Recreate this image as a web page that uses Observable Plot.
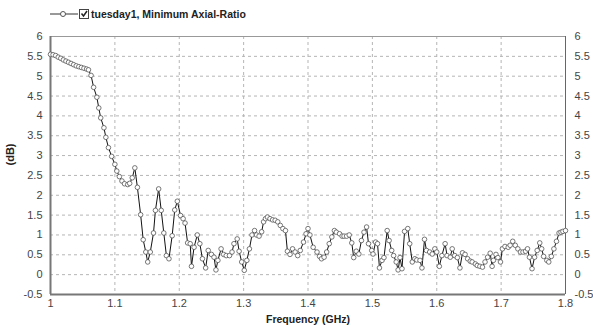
<!DOCTYPE html>
<html><head><meta charset="utf-8">
<script src="https://cdn.jsdelivr.net/npm/d3@7"></script>
<script src="https://cdn.jsdelivr.net/npm/@observablehq/plot@0.6"></script>
<style>
body{margin:0;background:#fff;font-family:"Liberation Sans",Arial,sans-serif;}
#legend{height:24px;}
#legend svg, #chart svg{display:block;}
</style></head><body>
<div id="legend"><svg width="593" height="24">
<line x1="50" y1="14" x2="78" y2="14" stroke="#333"/>
<circle cx="63" cy="14" r="2.5" fill="#fff" stroke="#555"/>
<rect x="79.5" y="9.5" width="9" height="9" fill="#fff" stroke="#444"/>
<path d="M81.5 13.5 l2 2.5 l3.5 -5" fill="none" stroke="#222" stroke-width="1.5"/>
<text x="91" y="18" font-size="10.5" font-weight="bold" fill="#222" font-family="Liberation Sans, Arial, sans-serif">tuesday1, Minimum Axial-Ratio</text>
</svg></div>
<div id="chart"></div>
<script>
const seriesName = "tuesday1, Minimum Axial-Ratio";
const xTicks = [1, 1.1, 1.2, 1.3, 1.4, 1.5, 1.6, 1.7, 1.8];
const yTicks = [-0.5, 0, 0.5, 1, 1.5, 2, 2.5, 3, 3.5, 4, 4.5, 5, 5.5, 6];
const freq = [
1.000,1.004,1.008,1.012,1.016,1.020,1.024,1.028,1.032,1.036,1.040,1.044,1.048,1.052,1.056,1.059,
1.063,1.067,1.072,1.075,1.078,1.083,1.086,1.090,1.095,1.100,1.103,1.107,1.111,1.115,1.120,1.123,
1.127,1.131,1.135,1.140,1.144,1.148,1.151,1.155,1.160,1.163,1.168,1.172,1.176,1.180,1.184,1.189,
1.193,1.197,1.202,
1.206,1.209,1.213,1.217,1.219,1.223,1.228,1.232,1.236,1.241,1.245,1.250,1.254,1.257,1.260,1.265,
1.269,1.273,1.278,1.282,1.285,1.290,1.293,1.297,1.301,1.305,1.309,1.313,1.317,1.320,1.324,1.328,
1.331,1.334,1.337,1.341,1.345,1.349,1.353,1.357,1.361,1.365,1.368,1.372,1.376,1.380,1.384,1.388,
1.393,1.397,1.400,1.403,1.408,
1.414,1.418,1.421,1.425,1.429,1.433,1.437,1.441,1.444,1.449,1.453,1.456,1.460,1.464,1.468,1.471,
1.475,1.479,1.483,1.487,1.491,1.494,1.499,1.501,1.505,1.508,1.511,1.515,1.518,1.523,1.526,1.530,
1.533,1.537,1.540,1.543,1.546,1.550,1.555,1.558,1.562,1.566,1.569,1.574,1.577,1.581,1.584,1.589,
1.593,1.597,1.600,1.604,1.608,
1.613,1.616,1.621,1.624,1.628,1.632,1.636,1.640,1.644,1.648,1.652,1.655,1.660,1.663,1.667,1.671,
1.675,1.679,1.683,1.686,1.688,1.692,1.695,1.699,1.702,1.706,1.711,1.714,1.718,1.722,1.726,1.730,
1.734,1.738,1.741,1.744,1.748,1.752,1.756,1.760,1.763,1.766,1.771,1.774,1.778,1.782,1.786,1.790,
1.793,1.796,1.800];
const ar = [
5.55,5.54,5.52,5.48,5.45,5.41,5.38,5.35,5.32,5.29,5.26,5.24,5.22,5.20,5.18,5.16,
5.02,4.72,4.47,4.20,3.95,3.70,3.46,3.20,2.98,2.78,2.61,2.47,2.36,2.29,2.27,2.30,
2.44,2.69,2.20,1.51,0.88,0.57,0.32,0.57,1.05,1.62,2.16,1.62,1.05,0.48,0.40,0.98,
1.63,1.85,1.49,
1.41,1.30,0.80,0.78,0.21,0.69,1.00,0.78,0.40,0.17,0.61,0.51,0.44,0.12,0.36,0.65,
0.51,0.48,0.48,0.57,0.78,0.90,0.59,0.32,0.11,0.36,0.65,1.00,1.11,1.00,0.97,1.08,
1.33,1.41,1.45,1.41,1.38,1.37,1.33,1.24,1.16,1.11,0.59,0.51,0.65,0.57,0.48,0.61,
0.82,1.03,1.16,1.00,0.69,
0.57,0.46,0.40,0.44,0.57,0.78,0.95,1.11,1.07,1.03,0.97,0.97,0.97,1.00,0.80,0.43,
0.59,0.52,0.86,1.07,1.20,0.78,0.61,0.52,0.82,0.78,0.17,0.36,0.43,1.11,0.86,0.61,
0.48,0.32,0.12,0.43,0.15,1.09,1.16,0.78,0.32,0.40,0.37,0.36,0.17,0.89,0.61,0.57,
0.52,0.65,0.57,0.21,0.48,
0.78,0.48,0.44,0.65,0.48,0.43,0.17,0.55,0.51,0.40,0.34,0.32,0.27,0.23,0.21,0.19,
0.32,0.44,0.54,0.21,0.36,0.51,0.43,0.32,0.65,0.71,0.69,0.74,0.84,0.74,0.65,0.57,
0.57,0.59,0.65,0.44,0.15,0.44,0.61,0.80,0.65,0.46,0.36,0.32,0.46,0.65,0.84,1.05,
1.07,1.09,1.11];

const data = freq.map((f, i) => ({f, v: ar[i], s: seriesName}));
const fmt = d => String(d);

const chart = Plot.plot({
  width: 593, height: 301,
  marginTop: 12, marginBottom: 31, marginLeft: 50, marginRight: 28,
  style: {fontFamily: '"Liberation Sans", Arial, sans-serif', fontSize: "11px", color: "#444", background: "#fff"},
  x: {domain: [1, 1.8]},
  y: {domain: [-0.5, 6]},
  marks: [
    Plot.gridY(yTicks.slice(1, -1), {stroke: "#b5b5b5", strokeOpacity: 1, strokeDasharray: "3,3"}),
    Plot.gridX(xTicks.slice(1, -1), {stroke: "#b5b5b5", strokeOpacity: 1, strokeDasharray: "3,3"}),
    Plot.ruleY([6], {stroke: "#999"}),
    Plot.ruleX([1.8], {stroke: "#666"}),
    Plot.ruleX([1], {stroke: "#777", strokeWidth: 2}),
    Plot.ruleY([-0.5], {stroke: "#777", strokeWidth: 2}),
    Plot.axisY(yTicks, {anchor: "left", tickSize: 0, tickPadding: 8, tickFormat: fmt, label: null}),
    Plot.axisY(yTicks, {anchor: "right", tickSize: 0, tickPadding: 9, tickFormat: fmt, label: null}),
    Plot.axisX(xTicks, {anchor: "bottom", tickSize: 0, tickPadding: 5, tickFormat: fmt, label: null}),
    Plot.text(["(dB)"], {frameAnchor: "left", dx: -40, rotate: -90, fontWeight: "bold", fill: "#222", fontSize: 11}),
    Plot.text(["Frequency (GHz)"], {frameAnchor: "bottom", dy: 25, lineAnchor: "middle", fontWeight: "bold", fill: "#222", fontSize: 10.5}),
    Plot.line(data, {x: "f", y: "v", stroke: "#111", strokeWidth: 1}),
    Plot.dot(data, {x: "f", y: "v", r: 2.3, stroke: "#555", strokeWidth: 0.8, fill: "#fff"})
  ]
});
document.getElementById("chart").append(chart);
</script>
</body></html>
